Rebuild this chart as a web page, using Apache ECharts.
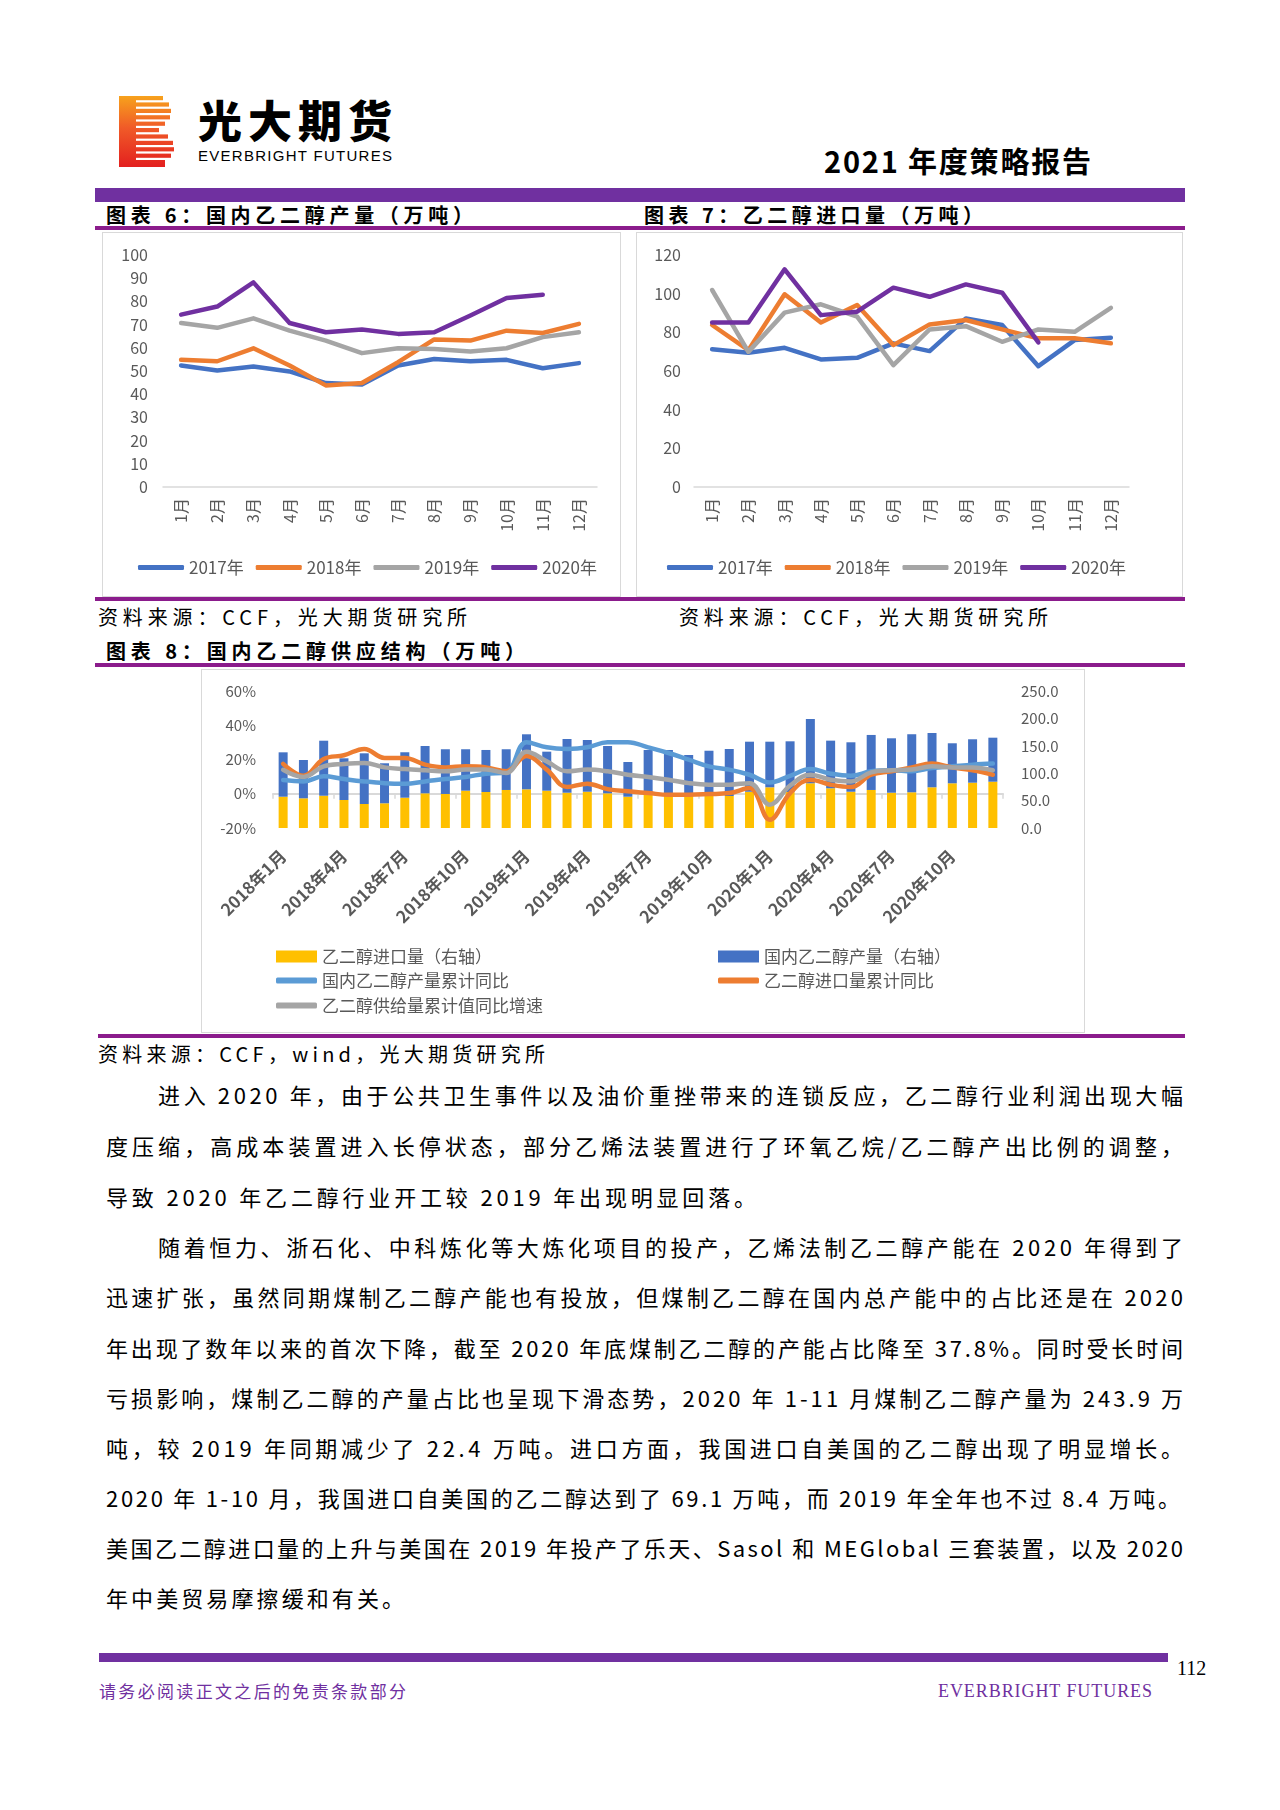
<!DOCTYPE html>
<html><head><meta charset="utf-8">
<script src="https://cdn.jsdelivr.net/npm/echarts@6/dist/echarts.min.js"></script>
<style>
html,body{margin:0;padding:0;background:#fff;}
body{width:1280px;height:1810px;position:relative;overflow:hidden;font-family:"Noto Sans CJK SC",sans-serif;color:#000;}
.a{position:absolute;}
.t{position:absolute;white-space:pre;line-height:1;display:inline-block;}
.bar{position:absolute;}
.box{position:absolute;border:1px solid #D9D9D9;box-sizing:border-box;background:#fff;}
.title{font-size:20px;font-weight:700;}
.src{font-size:20px;}
.body{font-size:22px;}
#chart{position:absolute;left:0;top:0;width:1280px;height:1810px;z-index:5;}
</style></head><body>

<svg class="a" style="left:119px;top:96px" width="55" height="71" viewBox="0 0 55 71">
<defs><linearGradient id="lg" gradientUnits="userSpaceOnUse" x1="0" y1="0" x2="0" y2="71"><stop offset="0" stop-color="#F7A21C"/><stop offset="0.45" stop-color="#F05A28"/><stop offset="1" stop-color="#E3201F"/></linearGradient></defs>
<g fill="url(#lg)">
<rect x="0" y="0" width="17" height="71"/>
<rect x="16" y="0" width="28" height="4.2"/>
<rect x="16" y="6.4" width="34" height="4.2"/>
<rect x="16" y="12.8" width="36" height="4.2"/>
<rect x="16" y="19.2" width="35" height="4.2"/>
<rect x="16" y="25.6" width="30" height="4.2"/>
<rect x="16" y="32" width="24" height="4.2"/>
<rect x="16" y="38.4" width="33" height="4.2"/>
<rect x="16" y="44.8" width="38" height="4.2"/>
<rect x="16" y="51.2" width="39" height="4.2"/>
<rect x="16" y="57.6" width="36" height="4.2"/>
<rect x="16" y="64" width="30" height="7"/>
</g></svg>
<div class="t" data-w="194" style="left:198px;top:97px;font-size:44px;font-weight:900;">光大期货</div>
<div class="t" data-w="194" style="left:198px;top:148px;font-size:15px;font-family:'Liberation Sans',Arial,sans-serif;">EVERBRIGHT FUTURES</div>
<div class="t" data-w="267" style="left:824px;top:146px;font-size:29px;font-weight:700;">2021 年度策略报告</div>

<div class="bar" style="left:95px;top:188px;width:1090px;height:14px;background:#7030A0;"></div>
<div class="t title" data-w="367" style="left:106px;top:205px;">图表 6：国内乙二醇产量（万吨）</div>
<div class="t title" data-w="339" style="left:644px;top:205px;">图表 7：乙二醇进口量（万吨）</div>
<div class="bar" style="left:95px;top:226px;width:1090px;height:4px;background:#8B1C8C;"></div>

<div class="box" style="left:102px;top:232px;width:519px;height:365px;"></div>
<div class="box" style="left:636px;top:232px;width:547px;height:365px;"></div>
<div class="bar" style="left:95px;top:597px;width:1090px;height:4px;background:#8B1C8C;"></div>
<div class="t src" data-w="369" style="left:98px;top:607px;">资料来源：CCF，光大期货研究所</div>
<div class="t src" data-w="369" style="left:679px;top:607px;">资料来源：CCF，光大期货研究所</div>
<div class="t title" data-w="419" style="left:106px;top:641px;">图表 8：国内乙二醇供应结构（万吨）</div>
<div class="bar" style="left:95px;top:663px;width:1090px;height:4px;background:#8B1C8C;"></div>
<div class="box" style="left:201px;top:669px;width:884px;height:364px;"></div>
<div class="bar" style="left:98px;top:1034px;width:1087px;height:4px;background:#8B1C8C;"></div>
<div class="t src" data-w="447" style="left:98px;top:1044px;">资料来源：CCF，wind，光大期货研究所</div>

<div class="t body" data-w="1025" style="left:158px;top:1083px;">进入 2020 年，由于公共卫生事件以及油价重挫带来的连锁反应，乙二醇行业利润出现大幅</div>
<div class="t body" data-w="1077" style="left:106px;top:1134px;">度压缩，高成本装置进入长停状态，部分乙烯法装置进行了环氧乙烷/乙二醇产出比例的调整，</div>
<div class="t body" data-w="650" style="left:106px;top:1185px;">导致 2020 年乙二醇行业开工较 2019 年出现明显回落。</div>
<div class="t body" data-w="1025" style="left:158px;top:1235px;">随着恒力、浙石化、中科炼化等大炼化项目的投产，乙烯法制乙二醇产能在 2020 年得到了</div>
<div class="t body" data-w="1077" style="left:106px;top:1285px;">迅速扩张，虽然同期煤制乙二醇产能也有投放，但煤制乙二醇在国内总产能中的占比还是在 2020</div>
<div class="t body" data-w="1077" style="left:106px;top:1336px;">年出现了数年以来的首次下降，截至 2020 年底煤制乙二醇的产能占比降至 37.8%。同时受长时间</div>
<div class="t body" data-w="1077" style="left:106px;top:1386px;">亏损影响，煤制乙二醇的产量占比也呈现下滑态势，2020 年 1-11 月煤制乙二醇产量为 243.9 万</div>
<div class="t body" data-w="1077" style="left:106px;top:1436px;">吨，较 2019 年同期减少了 22.4 万吨。进口方面，我国进口自美国的乙二醇出现了明显增长。</div>
<div class="t body" data-w="1074" style="left:106px;top:1486px;">2020 年 1-10 月，我国进口自美国的乙二醇达到了 69.1 万吨，而 2019 年全年也不过 8.4 万吨。</div>
<div class="t body" data-w="1077" style="left:106px;top:1536px;">美国乙二醇进口量的上升与美国在 2019 年投产了乐天、Sasol 和 MEGlobal 三套装置，以及 2020</div>
<div class="t body" data-w="298" style="left:106px;top:1586px;">年中美贸易摩擦缓和有关。</div>

<div class="bar" style="left:99px;top:1653px;width:1069px;height:9px;background:#7030A0;"></div>
<div class="t" style="left:1177px;top:1658px;font-size:20px;font-family:'Liberation Serif',serif;">112</div>
<div class="t" data-w="307" style="left:99px;top:1682px;font-size:17px;color:#7030A0;">请务必阅读正文之后的免责条款部分</div>
<div class="t" data-w="214" style="left:938px;top:1682px;font-size:18px;color:#7030A0;font-family:'Liberation Serif',serif;">EVERBRIGHT FUTURES</div>

<div id="chart"></div>
<script>
// ---------- data ----------
const months = ['1月','2月','3月','4月','5月','6月','7月','8月','9月','10月','11月','12月'];
const years = ['2017年','2018年','2019年','2020年'];
// 图表6 国内乙二醇产量（万吨）
const prod2017 = [52.4, 50.2, 51.9, 49.8, 44.8, 44.2, 52.4, 55.2, 54.2, 54.8, 51.2, 53.4];
const prod2018 = [54.8, 54.2, 59.8, 52.4, 43.8, 44.8, 53.8, 63.6, 63.1, 67.4, 66.4, 70.3];
const prod2019 = [70.7, 68.6, 72.7, 67.4, 63.1, 57.7, 59.8, 59.5, 58.4, 59.8, 64.6, 66.7];
const prod2020 = [74.3, 77.8, 88.2, 70.7, 66.7, 67.9, 66.0, 66.7, 73.9, 81.5, 82.9, null];
// 图表7 乙二醇进口量（万吨）
const imp2017 = [71.3, 69.4, 72.0, 66.0, 66.8, 74.3, 70.3, 87.2, 83.8, 62.5, 76.0, 77.2];
const imp2018 = [83.8, 70.8, 99.7, 85.1, 94.1, 73.4, 84.1, 86.4, 81.5, 76.9, 76.9, 74.3];
const imp2019 = [101.9, 69.9, 90.2, 94.5, 88.1, 63.0, 81.5, 83.2, 75.1, 81.5, 80.3, 92.7];
const imp2020 = [85.1, 85.1, 112.6, 88.9, 90.7, 103.1, 98.4, 104.8, 100.5, 74.8, null, null];
// 图表8 国内乙二醇供应结构
const supplyMonths = ['2018年1月','2018年2月','2018年3月','2018年4月','2018年5月','2018年6月','2018年7月','2018年8月','2018年9月','2018年10月','2018年11月','2018年12月',
  '2019年1月','2019年2月','2019年3月','2019年4月','2019年5月','2019年6月','2019年7月','2019年8月','2019年9月','2019年10月','2019年11月','2019年12月',
  '2020年1月','2020年2月','2020年3月','2020年4月','2020年5月','2020年6月','2020年7月','2020年8月','2020年9月','2020年10月','2020年11月','2020年12月'];
const importVol = [57.1, 54.2, 58.9, 51.1, 43.8, 45.1, 55.3, 63.3, 62.1, 68.1, 65.7, 69.4,
  70.6, 68.1, 64.4, 66.2, 63.3, 57.1, 60.2, 60.2, 60.2, 60.2, 58.4, 66.2,
  74.3, 65.7, 81.6, 72.5, 66.2, 69.4, 64.4, 65.2, 74.3, 81.6, 82.7, 84.5];
const domesticVol = [81.0, 69.9, 100.4, 76.1, 92.5, 73.0, 82.9, 86.3, 81.6, 75.6, 76.7, 74.3,
  100.4, 71.2, 98.0, 94.4, 86.3, 63.3, 82.1, 82.1, 73.0, 80.8, 85.8, 91.3,
  83.2, 92.5, 117.3, 86.9, 90.2, 100.4, 99.3, 105.9, 99.1, 73.0, 79.2, 80.3];
const prodYoY = [8.0, 7.2, 10.2, 8.6, 7.2, 6.2, 5.9, 7.2, 8.6, 9.8, 11.7, 12.5,
  30.1, 27.1, 26.2, 27.1, 30.1, 30.1, 27.1, 23.8, 19.9, 16.0, 14.1, 11.1,
  6.6, 10.5, 14.4, 11.7, 10.5, 13.1, 13.7, 13.1, 15.0, 16.0, 17.0, 17.6];
const importYoY = [17.5, 10.5, 20.3, 22.5, 26.2, 20.9, 20.9, 17.0, 15.4, 16.0, 15.4, 13.1,
  22.0, 14.1, 3.9, 5.9, 2.7, 1.4, 0.4, -0.6, -0.6, -0.2, 0.4, 3.3,
  -15.2, 0.4, 8.2, 5.3, 3.9, 11.1, 13.1, 15.4, 17.6, 15.4, 13.7, 11.1];
const supplyYoY = [14.0, 9.8, 16.0, 17.4, 18.0, 15.4, 14.4, 13.7, 13.1, 14.1, 14.1, 12.1,
  24.5, 18.9, 13.1, 14.1, 13.1, 11.1, 9.8, 8.2, 6.2, 5.3, 5.3, 6.2,
  -6.4, 4.8, 11.1, 8.2, 7.2, 12.5, 13.7, 14.1, 16.0, 15.4, 15.4, 13.7];
const supplyNames = ['乙二醇进口量（右轴）','国内乙二醇产量（右轴）','国内乙二醇产量累计同比','乙二醇进口量累计同比','乙二醇供给量累计值同比增速'];

// ---------- text fitting ----------
function fitAll(){
  document.querySelectorAll('[data-w]').forEach(el=>{
    el.style.letterSpacing='0px';
    const w = el.getBoundingClientRect().width;
    const n = Array.from(el.textContent).length;
    const target = parseFloat(el.dataset.w);
    el.style.letterSpacing = ((target - w)/(n-1)) + 'px';
  });
}
fitAll();
if (document.fonts && document.fonts.ready) document.fonts.ready.then(fitAll);

// ---------- chart ----------
const FONT = '"Noto Sans CJK SC", sans-serif';
const yearColors = ['#4472C4','#ED7D31','#A5A5A5','#7030A0'];
const gray = '#595959';
function yearLine(name, data, idx, color){
  return {type:'line', name:name, data:data, xAxisIndex:idx, yAxisIndex:idx, symbol:'none',
    lineStyle:{width:4.5, color:color, cap:'round', join:'round'}, itemStyle:{color:color}, z:3};
}
function catAxis(grid){
  return {type:'category', gridIndex:grid, data:months, boundaryGap:true,
    axisLine:{lineStyle:{color:'#D9D9D9', width:1.5}}, axisTick:{show:false},
    axisLabel:{color:gray, fontSize:16, rotate:90, margin:11, interval:0}};
}
function legendFor(data, left, top, icon, w, h){
  return {data:data, left:left, top:top, icon:icon, itemWidth:w, itemHeight:h, itemGap:12,
    selectedMode:false, textStyle:{color:gray, fontSize:17}, padding:0};
}
const chart = echarts.init(document.getElementById('chart'), null, {renderer:'canvas'});
const lineSup = (name, data, color) => ({type:'line', name:name, data:data, xAxisIndex:2, yAxisIndex:2,
  symbol:'none', smooth:0.4, lineStyle:{width:4.5, color:color, cap:'round', join:'round'}, itemStyle:{color:color}, z:4});
chart.setOption({
  animation:false,
  textStyle:{fontFamily:FONT},
  grid:[
    {left:163, top:255, width:434, height:232},
    {left:694, top:255, width:435, height:232},
    {left:273, top:691, width:730, height:137}
  ],
  xAxis:[
    catAxis(0), catAxis(1),
    {type:'category', gridIndex:2, data:supplyMonths, boundaryGap:true,
      axisLine:{onZero:true, onZeroAxisIndex:2, lineStyle:{color:'#D9D9D9', width:2}},
      axisTick:{show:true, interval:2, length:5, lineStyle:{color:'#D9D9D9', width:1.5}},
      axisLabel:{show:false}},
    {type:'category', gridIndex:2, data:supplyMonths, boundaryGap:true, position:'bottom',
      axisLine:{show:false, onZero:false}, axisTick:{show:false},
      axisLabel:{color:gray, fontSize:17, fontWeight:'bold', rotate:45, interval:2, margin:25}}
  ],
  yAxis:[
    {type:'value', gridIndex:0, min:0, max:100, interval:10, splitLine:{show:false}, axisLine:{show:false}, axisTick:{show:false},
      axisLabel:{color:gray, fontSize:16, margin:15}},
    {type:'value', gridIndex:1, min:0, max:120, interval:20, splitLine:{show:false}, axisLine:{show:false}, axisTick:{show:false},
      axisLabel:{color:gray, fontSize:16, margin:13}},
    {type:'value', gridIndex:2, min:-20, max:60, interval:20, splitLine:{show:false}, axisLine:{show:false}, axisTick:{show:false},
      axisLabel:{color:gray, fontSize:15, margin:17, formatter:'{value}%'}},
    {type:'value', gridIndex:2, position:'right', min:0, max:250, interval:50, splitLine:{show:false}, axisLine:{show:false}, axisTick:{show:false},
      axisLabel:{color:gray, fontSize:15, margin:18, formatter:function(v){return v.toFixed(1);}}}
  ],
  legend:[
    legendFor(years, 138, 559, 'roundRect', 46, 5),
    legendFor(years, 667, 559, 'roundRect', 46, 5),
    legendFor([supplyNames[0]], 276, 948, 'rect', 41, 12),
    legendFor([supplyNames[1]], 718, 948, 'rect', 41, 12),
    legendFor([supplyNames[2]], 276, 972, 'roundRect', 41, 6),
    legendFor([supplyNames[3]], 718, 972, 'roundRect', 41, 6),
    legendFor([supplyNames[4]], 276, 997, 'roundRect', 41, 6)
  ],
  series:[
    yearLine(years[0], prod2017, 0, yearColors[0]),
    yearLine(years[1], prod2018, 0, yearColors[1]),
    yearLine(years[2], prod2019, 0, yearColors[2]),
    yearLine(years[3], prod2020, 0, yearColors[3]),
    yearLine(years[0], imp2017, 1, yearColors[0]),
    yearLine(years[1], imp2018, 1, yearColors[1]),
    yearLine(years[2], imp2019, 1, yearColors[2]),
    yearLine(years[3], imp2020, 1, yearColors[3]),
    {type:'bar', name:supplyNames[0], data:importVol, xAxisIndex:2, yAxisIndex:3, stack:'vol', barWidth:9, itemStyle:{color:'#FFC000'}, z:2},
    {type:'bar', name:supplyNames[1], data:domesticVol, xAxisIndex:2, yAxisIndex:3, stack:'vol', barWidth:9, itemStyle:{color:'#4472C4'}, z:2},
    lineSup(supplyNames[2], prodYoY, '#5B9BD5'),
    lineSup(supplyNames[3], importYoY, '#ED7D31'),
    lineSup(supplyNames[4], supplyYoY, '#A5A5A5')
  ]
});
</script>
</body></html>
